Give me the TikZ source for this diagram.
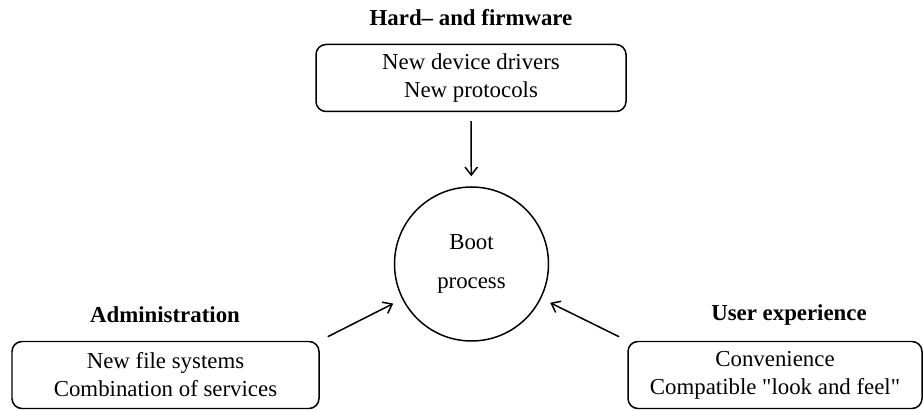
\documentclass[tikz,border=0pt]{standalone}
\usepackage{fontspec}
\setmainfont{Liberation Serif}
\usepackage{tikz}
\usetikzlibrary{positioning, calc, arrows.meta}

\begin{document}
\begin{tikzpicture}
	\tikzset{area/.style={draw,rounded corners=0.2cm,line width=0.85pt,align=center,inner sep=0pt,minimum height=1.34cm,font=\fontsize{13}{16}\selectfont}}
	\tikzset{heading/.style={font=\fontsize{13}{16}\selectfont\bfseries}}
	\tikzset{edge/.style={-{Straight Barb[length=1.6mm,width=2.5mm]}, line width=0.85pt, shorten <=0.18cm, shorten >=0.2cm}}
	
	\useasboundingbox (0,0) rectangle (18.48,8.2);
	
	\node(boot) at (9.43,2.92) [draw,circle,line width=0.85pt,minimum size=3.08cm,inner sep=0pt,align=center,font=\fontsize{13}{22}\selectfont] {Boot\\process};
	
	\node(hw_head) at (9.42,7.84) [heading] {Hard-- and firmware};
	\node(hw) at (9.42,6.64) [area,minimum width=6.2cm] {New device drivers\\New protocols};
	
	\node(adm_head) at (3.3,1.9) [heading] {Administration};
	\node(adm) at (3.31,0.7) [area,minimum width=6.14cm] {New file systems\\Combination of services};
	
	\node(user_head) at (15.78,1.9) [heading] {User experience};
	\node(user) at (15.5,0.7) [area,minimum width=5.88cm] {Convenience\\Compatible \textquotedbl look and feel\textquotedbl};
	
	\draw[edge] (hw) -- (boot);
	\draw[edge] (adm.north east) -- (boot);
	\draw[edge] (user.north west) -- (boot);
	
\end{tikzpicture}
\end{document}
